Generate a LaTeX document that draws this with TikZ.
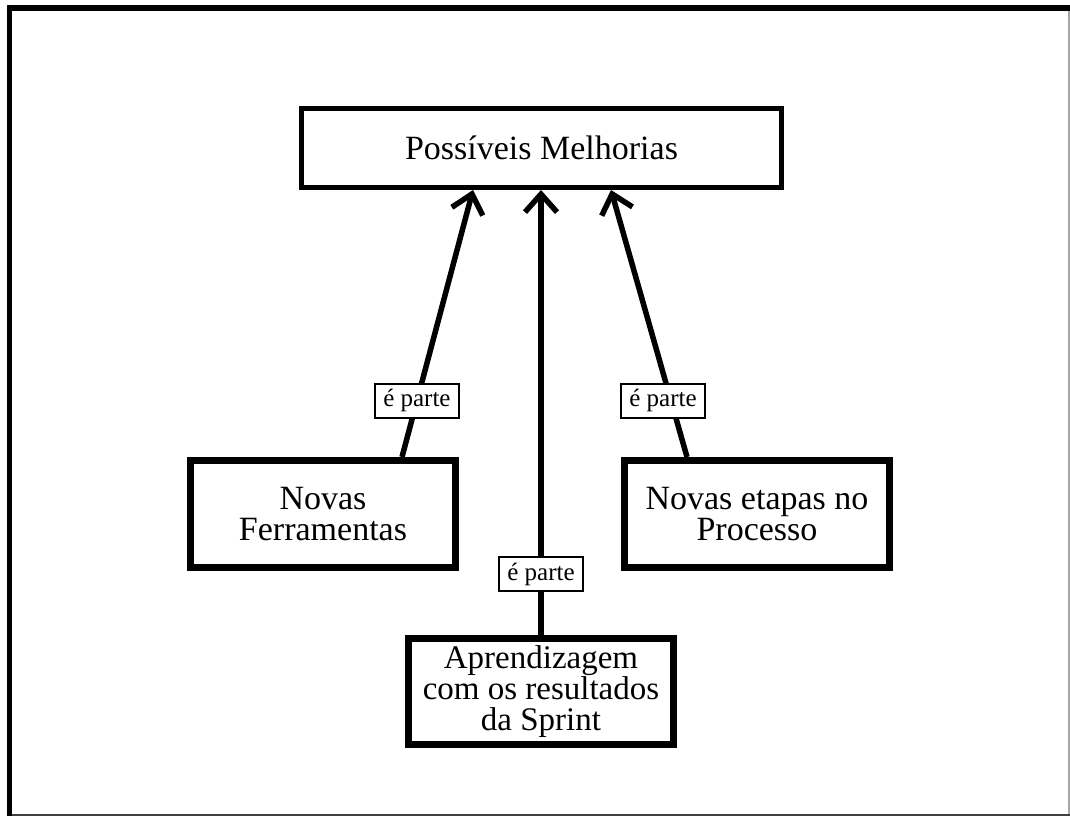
\documentclass[tikz,border=0pt]{standalone}
\usepackage{fontspec}
\setmainfont{Liberation Serif}
\usetikzlibrary{arrows.meta,calc}
\begin{document}
\begin{tikzpicture}[x=1pt,y=-1pt,
  concept/.style={draw, line width=#1, fill=white, inner sep=0pt,
    minimum width=265pt, minimum height=107pt, align=center,
    font=\fontsize{34}{31}\selectfont},
  concept/.default=7pt,
  linkname/.style={draw, line width=2.5pt, fill=white, inner sep=0pt,
    minimum width=84pt, minimum height=34pt,
    font=\fontsize{25}{27}\selectfont},
  link/.style={line width=5.5pt,
    -{Straight Barb[length=18pt,width=32pt]}}]
  \useasboundingbox (0,0) rectangle (1070,816);
  \fill[white] (0,0) rectangle (1070,816);
  % page frame
  \draw[line width=6pt] (7,8) -- (1070,8);
  \draw[line width=5pt] (9.5,5) -- (9.5,816);
  \draw[black!35, line width=1.5pt] (1069,11) -- (1069,816);
  \draw[black!75, line width=2pt] (12,814.5) -- (1070,814.5);

  % concepts
  \node[concept=5pt, minimum width=480pt, minimum height=79pt] (pm) at (541.5,148) {Possíveis Melhorias};
  \node[concept] (nf) at (323,514) {Novas\\Ferramentas};
  \node[concept] (ne) at (757,514) {Novas etapas no\\Processo};
  \node[concept, minimum height=106pt, font=\fontsize{33}{31}\selectfont] (ap) at (541,691.5) {Aprendizagem\\com os resultados\\da Sprint};

  % links
  \draw[link] ([xshift=79pt]nf.north) -- node[linkname, pos=0.21] (l1) {é parte} ([xshift=-68.5pt]pm.south);
  \draw[link] (ap.north) -- node[linkname, pos=0.137] (l2) {é parte} (pm.south -| ap.north);
  \draw[link] ([xshift=-70pt]ne.north) -- node[linkname, pos=0.21, xshift=-8pt] (l3) {é parte} ([xshift=69.5pt]pm.south);
\end{tikzpicture}
\end{document}
